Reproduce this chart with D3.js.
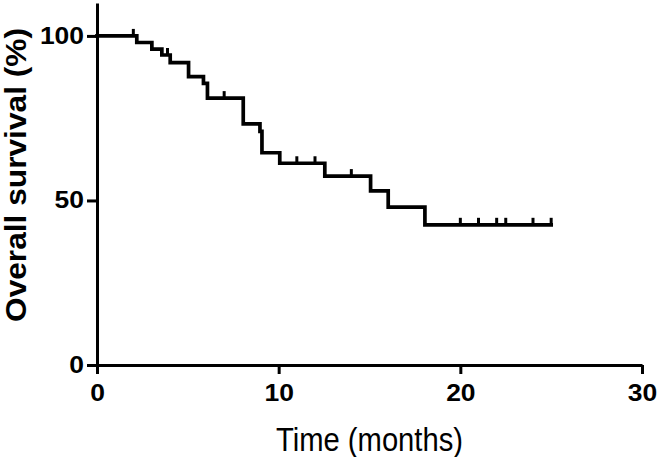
<!DOCTYPE html>
<html>
<head>
<meta charset="utf-8">
<script src="https://cdn.jsdelivr.net/npm/d3@7"></script>
<style>
  html, body { margin: 0; padding: 0; background: #fff; }
  svg { display: block; }
  text { font-family: "Liberation Sans", Arial, Helvetica, sans-serif; fill: #000; }
</style>
</head>
<body>
<svg id="chart" width="657" height="457"></svg>
<script>
// Kaplan-Meier step points (time in months, survival %)
const stepTimes = [0, 2.19, 3.02, 3.57, 4.03, 5.04, 5.86, 6.08, 8.05, 8.97, 9.08, 10.06, 12.54, 15.06, 16.03, 18.05];
const stepSurvival = [100, 98, 96, 94.2, 91.9, 87.6, 85.6, 81.1, 73.3, 71.0, 64.5, 61.3, 57.4, 52.9, 48.0, 42.6];
const followUpEnd = 25.0;
// Censored observations (tick marks)
const censorTimes = [2.0, 3.88, 7.0, 11.0, 12.0, 14.0, 20.0, 21.0, 22.0, 22.5, 24.0, 25.0];
// Axis ticks
const xTicks = [0, 10, 20, 30];
const yTicks = [0, 50, 100];
const xTitle = "Time (months)";
const yTitle = "Overall survival (%)";

const svg = d3.select("#chart");
const x = d3.scaleLinear().domain([0, 30]).range([97, 642]);
const y = d3.scaleLinear().domain([0, 110]).range([365, 3]);

function stretch(sel, factor) {
  sel.each(function() {
    const len = this.getComputedTextLength();
    d3.select(this).attr("textLength", len * factor).attr("lengthAdjust", "spacingAndGlyphs");
  });
}

// X axis
const gx = svg.append("g").attr("transform", `translate(0,${y(0)})`)
  .call(d3.axisBottom(x).tickValues(xTicks).tickFormat(d3.format("d")).tickSize(9).tickSizeOuter(0).tickPadding(11));
gx.select(".domain").attr("stroke", "#000").attr("stroke-width", 3);
gx.selectAll(".tick line").attr("stroke", "#000").attr("stroke-width", 3);
gx.selectAll(".tick text").attr("font-size", 23).attr("font-weight", "bold")
  .attr("font-family", "'Liberation Sans', Arial, sans-serif").attr("fill", "#000");
stretch(gx.selectAll(".tick text"), 1.15);

// Y axis
const gy = svg.append("g").attr("transform", `translate(${x(0)},0)`)
  .call(d3.axisLeft(y).tickValues(yTicks).tickFormat(d3.format("d")).tickSize(10).tickSizeOuter(0).tickPadding(3));
gy.select(".domain").attr("stroke", "#000").attr("stroke-width", 3);
gy.selectAll(".tick line").attr("stroke", "#000").attr("stroke-width", 3);
gy.selectAll(".tick text").attr("font-size", 23).attr("font-weight", "bold")
  .attr("font-family", "'Liberation Sans', Arial, sans-serif").attr("fill", "#000");
stretch(gy.selectAll(".tick text"), 1.15);

// Survival curve
const pts = stepTimes.map((t, i) => [t, stepSurvival[i]]);
pts.push([followUpEnd, stepSurvival[stepSurvival.length - 1]]);
const line = d3.line().x(d => x(d[0])).y(d => y(d[1])).curve(d3.curveStepAfter);
svg.append("path").datum(pts).attr("d", line)
  .attr("fill", "none").attr("stroke", "#000").attr("stroke-width", 3.7)
  .attr("stroke-linejoin", "miter").attr("stroke-linecap", "square");

function survivalAt(t) {
  let s = stepSurvival[0];
  for (let i = 0; i < stepTimes.length; i++) if (stepTimes[i] <= t) s = stepSurvival[i];
  return s;
}
svg.append("g").selectAll("line").data(censorTimes).join("line")
  .attr("x1", d => x(d)).attr("x2", d => x(d))
  .attr("y1", d => y(survivalAt(d))).attr("y2", d => y(survivalAt(d)) - 7)
  .attr("stroke", "#000").attr("stroke-width", 3);

// Titles
svg.append("text").attr("x", (x(0) + x(30)) / 2).attr("y", 451)
  .attr("text-anchor", "middle").attr("font-size", 34).text(xTitle)
  .attr("textLength", 187).attr("lengthAdjust", "spacingAndGlyphs");
svg.append("text").attr("transform", "translate(26,175) rotate(-90)")
  .attr("text-anchor", "middle").attr("font-size", 29).attr("font-weight", "bold").text(yTitle)
  .attr("textLength", 294).attr("lengthAdjust", "spacingAndGlyphs");
</script>
</body>
</html>
